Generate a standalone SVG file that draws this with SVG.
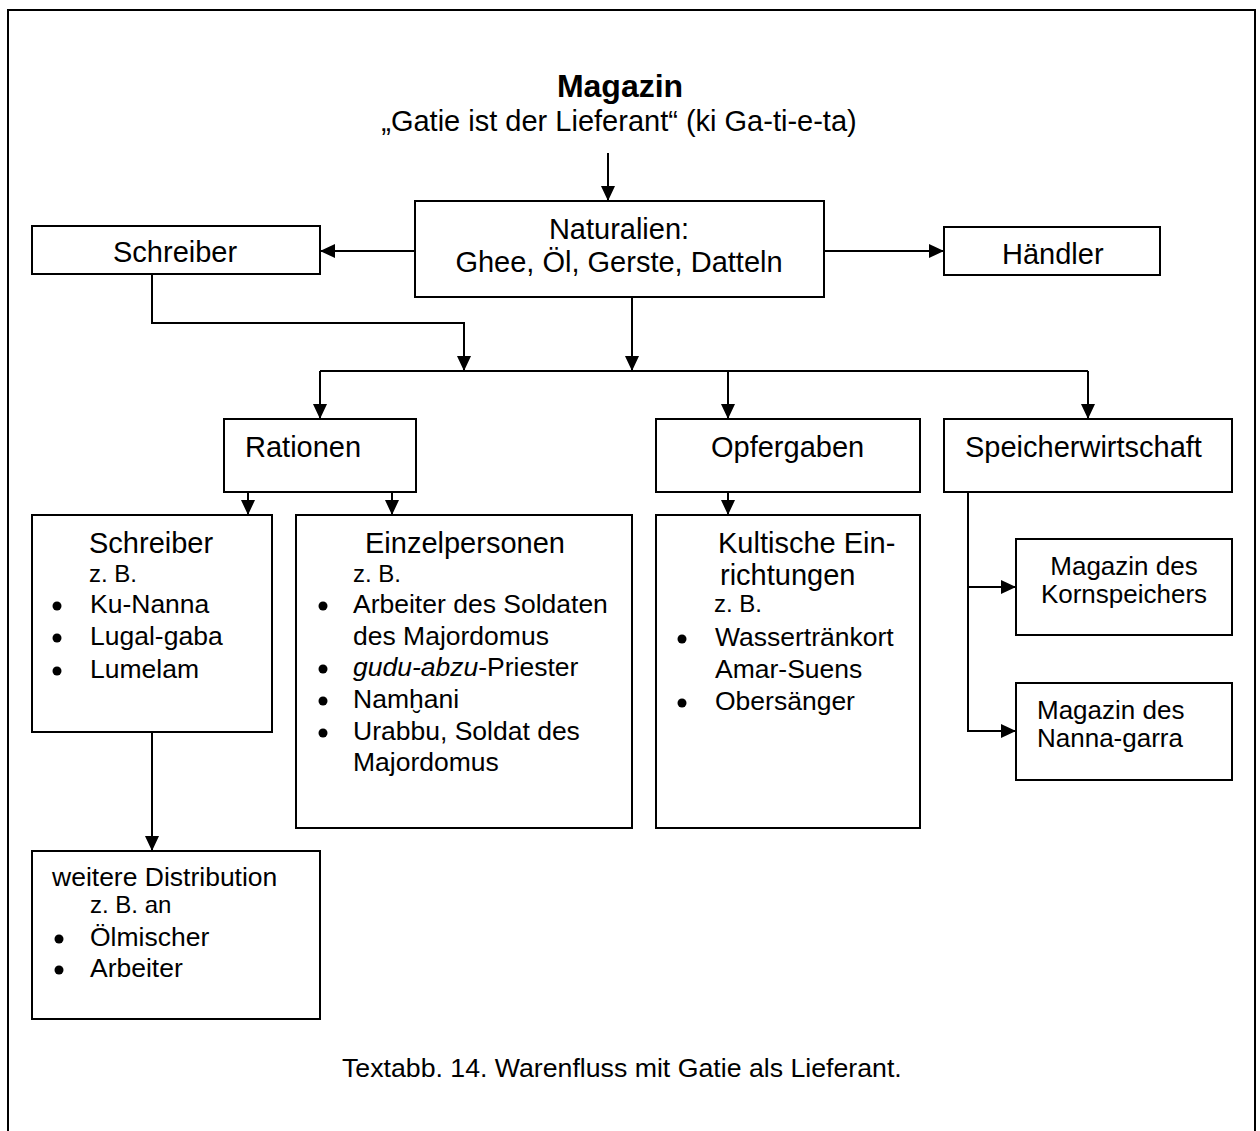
<svg xmlns="http://www.w3.org/2000/svg" width="1260" height="1131" viewBox="0 0 1260 1131">
  <defs>
    <marker id="ah" markerWidth="15" markerHeight="14" refX="15" refY="7" orient="auto" markerUnits="userSpaceOnUse">
      <path d="M0,0 L15,7 L0,14 z" fill="#000"/>
    </marker>
    <style>
      text { font-family: "Liberation Sans", Arial, Helvetica, sans-serif; fill: #000; }
      .t { font-size: 29px; }
      .i { font-size: 26.5px; }
      .s { font-size: 24px; }
      .m { font-size: 26px; }
      .c { text-anchor: middle; }
      .box { fill: #fff; stroke: #000; stroke-width: 2; }
      .ln { fill: none; stroke: #000; stroke-width: 2; }
      .arr { fill: none; stroke: #000; stroke-width: 2; marker-end: url(#ah); }
      .dot { fill: #000; }
    </style>
  </defs>

  <rect width="1260" height="1131" fill="#fff"/>
  <!-- frame, open at the bottom -->
  <path class="ln" d="M8,1131 V10 H1255 V1131"/>

  <!-- heading -->
  <g id="heading">
    <text x="620" y="97" class="c" font-size="32" font-weight="bold">Magazin</text>
    <text x="619" y="131" class="t c">„Gatie ist der Lieferant“ (ki Ga-ti-e-ta)</text>
  </g>

  <!-- connectors -->
  <g id="connectors">
    <path class="arr" d="M608,153 V201"/>
    <path class="arr" d="M415,251 H320"/>
    <path class="arr" d="M824,251 H944"/>
    <path class="arr" d="M152,274 V323 H464 V371"/>
    <path class="arr" d="M632,297 V371"/>
    <path class="ln" d="M320,371 H1088"/>
    <path class="arr" d="M320,371 V419"/>
    <path class="arr" d="M728,371 V419"/>
    <path class="arr" d="M1088,371 V419"/>
    <path class="arr" d="M248,492 V515"/>
    <path class="arr" d="M392,492 V515"/>
    <path class="arr" d="M728,492 V515"/>
    <path class="arr" d="M968,492 V731 H1016"/>
    <path class="arr" d="M968,587 H1016"/>
    <path class="arr" d="M152,732 V851"/>
  </g>

  <g id="naturalien">
    <rect class="box" x="415" y="201" width="409" height="96"/>
    <text x="619" y="239" class="t c">Naturalien:</text>
    <text x="619" y="272" class="t c">Ghee, Öl, Gerste, Datteln</text>
  </g>

  <g id="schreiber-top">
    <rect class="box" x="32" y="226" width="288" height="48"/>
    <text x="113" y="262" class="t">Schreiber</text>
  </g>

  <g id="haendler">
    <rect class="box" x="944" y="227" width="216" height="48"/>
    <text x="1002" y="264" class="t">Händler</text>
  </g>

  <g id="rationen">
    <rect class="box" x="224" y="419" width="192" height="73"/>
    <text x="245" y="457" class="t">Rationen</text>
  </g>

  <g id="opfergaben">
    <rect class="box" x="656" y="419" width="264" height="73"/>
    <text x="711" y="457" class="t">Opfergaben</text>
  </g>

  <g id="speicherwirtschaft">
    <rect class="box" x="944" y="419" width="288" height="73"/>
    <text x="965" y="457" class="t">Speicherwirtschaft</text>
  </g>

  <g id="schreiber-list">
    <rect class="box" x="32" y="515" width="240" height="217"/>
    <text x="89" y="553" class="t">Schreiber</text>
    <text x="89" y="582" class="s">z. B.</text>
    <circle class="dot" cx="57" cy="606" r="4.5"/>
    <text x="90" y="613" class="i">Ku-Nanna</text>
    <circle class="dot" cx="57" cy="638" r="4.5"/>
    <text x="90" y="645" class="i">Lugal-gaba</text>
    <circle class="dot" cx="57" cy="671" r="4.5"/>
    <text x="90" y="678" class="i">Lumelam</text>
  </g>

  <g id="einzelpersonen">
    <rect class="box" x="296" y="515" width="336" height="313"/>
    <text x="365" y="553" class="t">Einzelpersonen</text>
    <text x="353" y="582" class="s">z. B.</text>
    <circle class="dot" cx="323" cy="606" r="4.5"/>
    <text x="353" y="613" class="i">Arbeiter des Soldaten</text>
    <text x="353" y="645" class="i">des Majordomus</text>
    <circle class="dot" cx="323" cy="669" r="4.5"/>
    <text x="353" y="676" class="i"><tspan font-style="italic">gudu-abzu</tspan>-Priester</text>
    <circle class="dot" cx="323" cy="701" r="4.5"/>
    <text x="353" y="708" class="i">Namḫani</text>
    <circle class="dot" cx="323" cy="733" r="4.5"/>
    <text x="353" y="740" class="i">Urabbu, Soldat des</text>
    <text x="353" y="771" class="i">Majordomus</text>
  </g>

  <g id="kultische-einrichtungen">
    <rect class="box" x="656" y="515" width="264" height="313"/>
    <text x="718" y="553" class="t">Kultische Ein-</text>
    <text x="720" y="585" class="t">richtungen</text>
    <text x="714" y="612" class="s">z. B.</text>
    <circle class="dot" cx="682" cy="639" r="4.5"/>
    <text x="715" y="646" class="i">Wassertränkort</text>
    <text x="715" y="678" class="i">Amar-Suens</text>
    <circle class="dot" cx="682" cy="703" r="4.5"/>
    <text x="715" y="710" class="i">Obersänger</text>
  </g>

  <g id="magazin-kornspeicher">
    <rect class="box" x="1016" y="539" width="216" height="96"/>
    <text x="1124" y="575" class="m c">Magazin des</text>
    <text x="1124" y="603" class="m c">Kornspeichers</text>
  </g>

  <g id="magazin-nanna-garra">
    <rect class="box" x="1016" y="683" width="216" height="97"/>
    <text x="1037" y="719" class="m">Magazin des</text>
    <text x="1037" y="747" class="m">Nanna-garra</text>
  </g>

  <g id="weitere-distribution">
    <rect class="box" x="32" y="851" width="288" height="168"/>
    <text x="52" y="886" class="i">weitere Distribution</text>
    <text x="90" y="913" class="s">z. B. an</text>
    <circle class="dot" cx="59" cy="939" r="4.5"/>
    <text x="90" y="946" class="i">Ölmischer</text>
    <circle class="dot" cx="59" cy="970" r="4.5"/>
    <text x="90" y="977" class="i">Arbeiter</text>
  </g>

  <g id="caption">
    <text x="342" y="1077" font-size="26.7">Textabb. 14. Warenfluss mit Gatie als Lieferant.</text>
  </g>
</svg>
